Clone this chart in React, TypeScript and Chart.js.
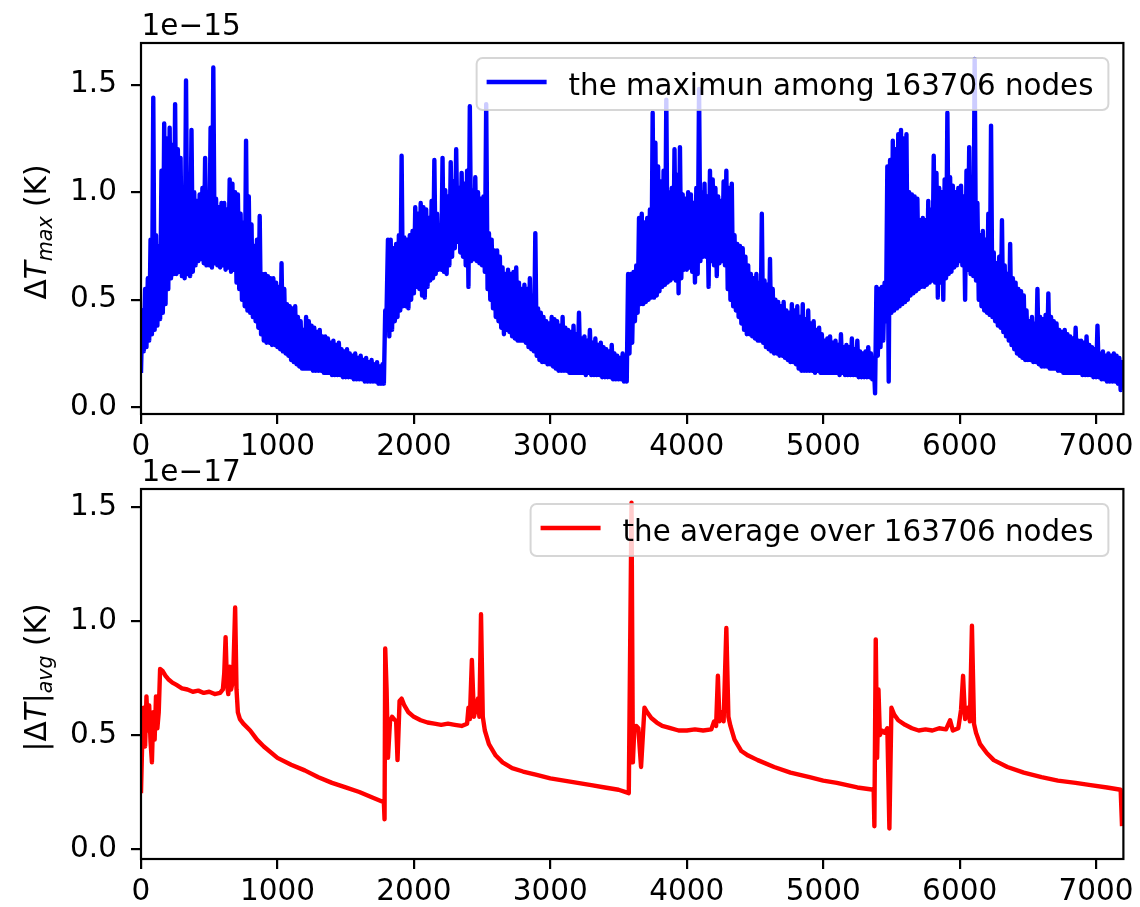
import React, { useEffect, useRef } from 'react';
import { Chart, registerables } from 'chart.js';

Chart.register(...registerables);

// ---------------------------------------------------------------------------
// Data
// ---------------------------------------------------------------------------

// Maximum |ΔT| among all nodes, in units of 1e-15 K.
// Each cycle is stored as two interleaved sample sets: the "floor" samples
// at start + 20·i s and the "peak" samples at start + 20·i + 10 s.
const SAMPLE_STEP = 20;

const cycle1Start = 0;
const cycle1Floor = [
  0.16, 0.26, 0.28, 0.31, 0.34, 0.36, 0.38, 0.41, 0.44, 0.48,
  0.55, 0.60, 0.62, 0.62, 0.63, 0.61, 0.60, 0.62, 0.61, 0.63,
  0.66, 0.68, 0.69, 0.67, 0.66, 0.66, 0.65, 0.67, 0.66, 0.65,
  0.66, 0.64, 0.65, 0.63, 0.64, 0.58, 0.55, 0.50, 0.47, 0.45,
  0.44, 0.42, 0.40, 0.37, 0.34, 0.31, 0.30, 0.30, 0.29, 0.29,
  0.28, 0.27, 0.26, 0.25, 0.24, 0.22, 0.21, 0.20, 0.19, 0.18,
  0.18, 0.18, 0.18, 0.17, 0.17, 0.17, 0.17, 0.16, 0.16, 0.16,
  0.15, 0.15, 0.15, 0.15, 0.14, 0.14, 0.14, 0.14, 0.13, 0.13,
  0.13, 0.13, 0.12, 0.12, 0.12, 0.12, 0.12, 0.11, 0.11, 0.11,
];
const cycle1Peak = [
  0.45, 0.55, 0.60, 0.78, 1.44, 0.80, 0.75, 1.10, 1.32, 1.25,
  1.30, 1.22, 1.41, 1.20, 1.16, 1.02, 1.52, 1.05, 1.29, 1.00,
  0.96, 0.99, 1.02, 1.16, 0.98, 1.30, 1.58, 0.97, 0.93, 0.95,
  0.95, 0.92, 1.06, 1.04, 1.00, 0.99, 0.90, 0.86, 1.24, 0.98,
  0.85, 0.75, 0.78, 0.89, 0.62, 0.62, 0.61, 0.60, 0.60, 0.58,
  0.56, 0.67, 0.55, 0.48, 0.47, 0.46, 0.47, 0.42, 0.40, 0.36,
  0.42, 0.40, 0.38, 0.37, 0.35, 0.36, 0.33, 0.33, 0.32, 0.30,
  0.31, 0.29, 0.30, 0.27, 0.26, 0.27, 0.25, 0.24, 0.25, 0.23,
  0.24, 0.22, 0.23, 0.21, 0.22, 0.20, 0.21, 0.19, 0.20, 0.45,
];

const cycle2Start = 1800;
const cycle2Floor = [
  0.45, 0.33, 0.36, 0.40, 0.42, 0.45, 0.47, 0.47, 0.46, 0.50,
  0.53, 0.56, 0.55, 0.52, 0.51, 0.56, 0.59, 0.60, 0.62, 0.64,
  0.64, 0.63, 0.62, 0.66, 0.70, 0.74, 0.77, 0.72, 0.70, 0.66,
  0.56, 0.68, 0.69, 0.68, 0.67, 0.66, 0.63, 0.55, 0.50, 0.46,
  0.42, 0.40, 0.37, 0.34, 0.36, 0.35, 0.33, 0.32, 0.31, 0.31,
  0.31, 0.30, 0.28, 0.27, 0.26, 0.24, 0.22, 0.21, 0.21, 0.20,
  0.20, 0.19, 0.18, 0.17, 0.17, 0.17, 0.17, 0.16, 0.16, 0.16,
  0.16, 0.16, 0.16, 0.15, 0.16, 0.15, 0.15, 0.15, 0.15, 0.14,
  0.14, 0.14, 0.14, 0.13, 0.13, 0.13, 0.13, 0.12, 0.12,
];
const cycle2Peak = [
  0.78, 0.78, 0.74, 0.76, 0.80, 1.17, 0.79, 0.78, 0.80, 0.82,
  0.93, 0.90, 0.95, 0.93, 0.92, 0.88, 0.96, 1.15, 0.90, 0.84,
  1.16, 1.01, 0.98, 1.14, 1.05, 1.20, 1.02, 1.09, 1.04, 1.10,
  1.40, 1.01, 1.07, 1.00, 0.97, 0.98, 1.41, 0.81, 0.78, 0.73,
  0.73, 0.70, 0.65, 0.62, 0.64, 0.62, 0.63, 0.65, 0.58, 0.55,
  0.57, 0.55, 0.60, 0.52, 0.81, 0.46, 0.44, 0.42, 0.40, 0.39,
  0.42, 0.41, 0.40, 0.38, 0.42, 0.37, 0.36, 0.35, 0.38, 0.34,
  0.44, 0.32, 0.33, 0.31, 0.36, 0.30, 0.32, 0.29, 0.30, 0.28,
  0.27, 0.26, 0.29, 0.25, 0.24, 0.23, 0.25, 0.22, 0.62,
];

const cycle3Start = 3580;
const cycle3Floor = [
  0.25, 0.30, 0.40, 0.44, 0.48, 0.48, 0.49, 0.50, 0.51, 0.51,
  0.52, 0.54, 0.56, 0.57, 0.58, 0.59, 0.60, 0.59, 0.53, 0.60,
  0.64, 0.64, 0.65, 0.63, 0.58, 0.62, 0.68, 0.70, 0.70, 0.56,
  0.68, 0.66, 0.61, 0.67, 0.68, 0.66, 0.55, 0.50, 0.47, 0.45,
  0.42, 0.39, 0.36, 0.34, 0.34, 0.33, 0.32, 0.31, 0.31, 0.30,
  0.28, 0.27, 0.26, 0.25, 0.25, 0.24, 0.24, 0.23, 0.22, 0.21,
  0.21, 0.20, 0.18, 0.17, 0.17, 0.17, 0.17, 0.17, 0.16, 0.17,
  0.16, 0.16, 0.16, 0.16, 0.16, 0.16, 0.16, 0.15, 0.16, 0.15,
  0.15, 0.15, 0.15, 0.15, 0.14, 0.14, 0.14, 0.14, 0.14, 0.13,
];
const cycle3Peak = [
  0.62, 0.63, 0.66, 0.88, 0.90, 0.86, 0.88, 0.92, 1.37, 1.23,
  1.12, 1.05, 1.10, 1.43, 1.00, 1.02, 1.20, 1.08, 1.21, 0.99,
  0.97, 1.00, 0.99, 0.95, 1.02, 1.48, 1.00, 1.04, 0.98, 1.10,
  1.06, 1.02, 0.98, 0.96, 1.05, 1.10, 1.02, 1.04, 0.80, 0.76,
  0.75, 0.74, 0.70, 0.66, 0.62, 0.60, 0.62, 0.58, 0.90, 0.59,
  0.57, 0.69, 0.55, 0.50, 0.49, 0.47, 0.49, 0.45, 0.44, 0.48,
  0.45, 0.47, 0.42, 0.48, 0.41, 0.45, 0.39, 0.40, 0.36, 0.37,
  0.34, 0.31, 0.32, 0.33, 0.30, 0.31, 0.29, 0.34, 0.28, 0.29,
  0.28, 0.32, 0.27, 0.31, 0.26, 0.25, 0.26, 0.28, 0.25, 0.22,
];

const cycle4Start = 5380;
const cycle4Floor = [
  0.065, 0.24, 0.28, 0.31, 0.40, 0.12, 0.44, 0.45, 0.46, 0.47,
  0.48, 0.49, 0.50, 0.52, 0.53, 0.54, 0.55, 0.56, 0.56, 0.57,
  0.58, 0.59, 0.58, 0.51, 0.58, 0.50, 0.60, 0.62, 0.63, 0.65,
  0.66, 0.68, 0.66, 0.50, 0.64, 0.62, 0.61, 0.59, 0.50, 0.47,
  0.45, 0.44, 0.43, 0.42, 0.40, 0.38, 0.37, 0.35, 0.33, 0.31,
  0.29, 0.27, 0.25, 0.24, 0.23, 0.22, 0.22, 0.22, 0.21, 0.21,
  0.20, 0.19, 0.19, 0.19, 0.18, 0.18, 0.18, 0.17, 0.17, 0.16,
  0.16, 0.16, 0.16, 0.16, 0.16, 0.16, 0.15, 0.15, 0.15, 0.15,
  0.14, 0.14, 0.14, 0.13, 0.13, 0.12, 0.12, 0.12, 0.12, 0.11,
  0.08,
];
const cycle4Peak = [
  0.56, 0.55, 0.56, 0.58, 1.12, 1.15, 1.24, 1.20, 1.27, 1.29,
  1.25, 1.27, 1.00, 0.99, 0.98, 0.97, 0.87, 0.88, 0.87, 0.96,
  0.92, 1.17, 1.09, 1.02, 1.00, 1.06, 1.37, 1.07, 1.03, 1.00,
  1.02, 1.03, 0.98, 1.10, 1.21, 1.00, 1.62, 0.95, 0.80, 0.82,
  0.78, 0.90, 1.31, 0.72, 0.67, 0.70, 0.87, 0.66, 0.62, 0.76,
  0.60, 0.58, 0.55, 0.54, 0.52, 0.45, 0.40, 0.42, 0.39, 0.55,
  0.42, 0.41, 0.43, 0.53, 0.42, 0.40, 0.39, 0.36, 0.35, 0.36,
  0.34, 0.33, 0.32, 0.37, 0.31, 0.31, 0.30, 0.33, 0.29, 0.28,
  0.27, 0.38, 0.25, 0.26, 0.24, 0.25, 0.24, 0.25, 0.24, 0.23,
  0.22,
];

// Average |ΔT| over all nodes, in units of 1e-17 K.
const avgTime = [
  0, 10, 20, 30, 40, 50, 60, 70, 80, 90, 100, 110, 120, 130, 140, 160, 180, 200, 230, 260,
  300, 340, 380, 420, 460, 500, 540, 580, 600, 610, 620, 630, 640, 650, 660, 675, 690, 700, 710, 725,
  750, 800, 850, 900, 1000, 1100, 1200, 1300, 1400, 1500, 1600, 1700, 1780, 1785, 1790, 1800, 1810, 1825, 1840, 1855,
  1870, 1880, 1895, 1910, 1930, 1960, 2000, 2050, 2100, 2150, 2200, 2250, 2300, 2350, 2390, 2400, 2410, 2425, 2440, 2455,
  2470, 2480, 2492, 2505, 2520, 2550, 2600, 2650, 2720, 2800, 2900, 3000, 3100, 3200, 3300, 3400, 3500, 3575, 3595, 3605,
  3615, 3630, 3645, 3665, 3690, 3710, 3740, 3780, 3820, 3880, 3940, 4000, 4060, 4120, 4180, 4200, 4215, 4228, 4240, 4255,
  4270, 4290, 4305, 4320, 4350, 4400, 4450, 4520, 4640, 4760, 4900, 5000, 5100, 5250, 5370, 5375, 5385, 5395, 5405, 5415,
  5430, 5450, 5470, 5485, 5500, 5520, 5550, 5600, 5650, 5700, 5750, 5800, 5850, 5900, 5930, 5950, 5990, 6010, 6025, 6040,
  6060, 6075, 6090, 6105, 6120, 6150, 6200, 6250, 6350, 6470, 6600, 6720, 6850, 6960, 7080, 7180, 7190,
];
const avgValue = [
  0.245, 0.50, 0.62, 0.45, 0.67, 0.52, 0.63, 0.47, 0.38, 0.60, 0.48, 0.67, 0.53, 0.60, 0.79, 0.78, 0.76, 0.745, 0.73, 0.72,
  0.705, 0.70, 0.69, 0.695, 0.685, 0.69, 0.68, 0.685, 0.70, 0.77, 0.93, 0.72, 0.68, 0.80, 0.70, 0.74, 1.06, 0.70, 0.60, 0.57,
  0.55, 0.52, 0.48, 0.45, 0.40, 0.37, 0.345, 0.315, 0.29, 0.27, 0.25, 0.225, 0.205, 0.13, 0.88, 0.70, 0.40, 0.56, 0.58, 0.57,
  0.56, 0.39, 0.65, 0.66, 0.63, 0.60, 0.58, 0.565, 0.555, 0.55, 0.545, 0.55, 0.545, 0.54, 0.55, 0.62, 0.57, 0.83, 0.58, 0.62,
  0.66, 0.58, 1.03, 0.58, 0.52, 0.46, 0.41, 0.38, 0.355, 0.34, 0.325, 0.31, 0.30, 0.29, 0.28, 0.27, 0.26, 0.245, 1.52, 0.38,
  0.52, 0.54, 0.53, 0.36, 0.62, 0.60, 0.575, 0.555, 0.54, 0.53, 0.52, 0.52, 0.525, 0.52, 0.525, 0.56, 0.54, 0.76, 0.56, 0.60,
  0.56, 0.97, 0.58, 0.54, 0.48, 0.43, 0.41, 0.39, 0.36, 0.335, 0.315, 0.30, 0.29, 0.27, 0.26, 0.10, 0.92, 0.40, 0.70, 0.50,
  0.52, 0.51, 0.53, 0.09, 0.62, 0.59, 0.565, 0.545, 0.53, 0.52, 0.525, 0.52, 0.53, 0.525, 0.565, 0.52, 0.53, 0.61, 0.76, 0.57,
  0.62, 0.56, 0.98, 0.55, 0.51, 0.46, 0.42, 0.39, 0.36, 0.335, 0.315, 0.30, 0.29, 0.28, 0.27, 0.26, 0.10,
];

// Axis ticks
const timeTicks = [0, 1000, 2000, 3000, 4000, 5000, 6000, 7000];
const maxTicks = [0, 0.5, 1.0, 1.5];
const avgTicks = [0, 0.5, 1.0, 1.5];

// ---------------------------------------------------------------------------
// Figure layout and styling
// ---------------------------------------------------------------------------

const FIG_W = 1140;
const FIG_H = 907;
const FONT = '"DejaVu Sans", sans-serif';
const TEXT_SIZE = 29.5;
const LEGEND_SIZE = 29.3;
const X_AXIS_H = 48;
const T_MIN = 0;
const T_MAX = 7200;

type Pt = { x: number; y: number };
type Piece = { text: string; italic?: boolean; sub?: boolean };

interface PanelSpec {
  points: Pt[];
  color: string;
  yMin: number;
  yMax: number;
  yTicks: number[];
  area: { left: number; top: number; right: number; bottom: number };
  offsetText: string;
  legendLabel: string;
  yLabel: Piece[];
}

// Merge a cycle's floor and peak samples into one time-ordered trace.
function cycleTrace(start: number, floor: number[], peak: number[]): Pt[] {
  const out: Pt[] = [];
  floor.forEach((lo, i) => {
    out.push({ x: start + i * SAMPLE_STEP, y: lo });
    if (i < peak.length) out.push({ x: start + i * SAMPLE_STEP + SAMPLE_STEP / 2, y: peak[i] });
  });
  return out;
}

const maxPoints: Pt[] = [
  ...cycleTrace(cycle1Start, cycle1Floor, cycle1Peak),
  ...cycleTrace(cycle2Start, cycle2Floor, cycle2Peak),
  ...cycleTrace(cycle3Start, cycle3Floor, cycle3Peak),
  ...cycleTrace(cycle4Start, cycle4Floor, cycle4Peak),
];
const avgPoints: Pt[] = avgTime.map((x, i) => ({ x, y: avgValue[i] }));

const TOP_PANEL: PanelSpec = {
  points: maxPoints,
  color: '#0000ff',
  yMin: -0.031,
  yMax: 1.694,
  yTicks: maxTicks,
  area: { left: 141, top: 43, right: 1127, bottom: 414 },
  offsetText: '1e\u221215',
  legendLabel: 'the maximun among 163706 nodes',
  yLabel: [
    { text: '\u0394' },
    { text: 'T', italic: true },
    { text: 'max', italic: true, sub: true },
    { text: ' (K)' },
  ],
};

const BOTTOM_PANEL: PanelSpec = {
  points: avgPoints,
  color: '#ff0000',
  yMin: -0.044,
  yMax: 1.58,
  yTicks: avgTicks,
  area: { left: 141, top: 489, right: 1127, bottom: 859 },
  offsetText: '1e\u221217',
  legendLabel: 'the average over 163706 nodes',
  yLabel: [
    { text: '|\u0394' },
    { text: 'T', italic: true },
    { text: '|' },
    { text: 'avg', italic: true, sub: true },
    { text: ' (K)' },
  ],
};

// Rotated axis title with an italic subscript, reading bottom to top.
function drawRotatedLabel(
  ctx: CanvasRenderingContext2D,
  pieces: Piece[],
  baseX: number,
  centerY: number,
  size: number,
) {
  const fontFor = (p: Piece) =>
    `${p.italic ? 'italic ' : ''}${p.sub ? size * 0.7 : size}px ${FONT}`;
  const widths = pieces.map((p) => {
    ctx.font = fontFor(p);
    return ctx.measureText(p.text).width;
  });
  const total = widths.reduce((a, b) => a + b, 0);
  ctx.save();
  ctx.translate(baseX, centerY);
  ctx.rotate(-Math.PI / 2);
  ctx.textAlign = 'left';
  ctx.textBaseline = 'alphabetic';
  ctx.fillStyle = '#000';
  let x = -total / 2;
  pieces.forEach((p, i) => {
    ctx.font = fontFor(p);
    ctx.fillText(p.text, x, p.sub ? size * 0.2 : 0);
    x += widths[i];
  });
  ctx.restore();
}

// Frame, offset text, y title and legend drawn on top of the data.
function makeDecor(spec: PanelSpec) {
  return {
    id: 'panelDecor',
    afterDraw(chart: Chart) {
      const { ctx, chartArea: a } = chart;
      ctx.save();

      ctx.strokeStyle = '#000';
      ctx.lineWidth = 2.2;
      ctx.strokeRect(a.left, a.top, a.right - a.left, a.bottom - a.top);

      ctx.fillStyle = '#000';
      ctx.font = `${TEXT_SIZE}px ${FONT}`;
      ctx.textAlign = 'left';
      ctx.textBaseline = 'alphabetic';
      ctx.fillText(spec.offsetText, a.left + 0.5, a.top - 8);

      drawRotatedLabel(ctx, spec.yLabel, 46, (a.top + a.bottom) / 2 + 3.5, TEXT_SIZE);

      // legend (upper right)
      ctx.font = `${LEGEND_SIZE}px ${FONT}`;
      const tw = ctx.measureText(spec.legendLabel).width;
      const padL = 10;
      const handle = 60;
      const gap = 22;
      const padR = 15;
      const boxH = 52;
      const right = a.right - 15;
      const top = a.top + 15;
      const left = right - (padL + handle + gap + tw + padR);
      const r = 6;
      ctx.beginPath();
      ctx.moveTo(left + r, top);
      ctx.lineTo(right - r, top);
      ctx.arcTo(right, top, right, top + r, r);
      ctx.lineTo(right, top + boxH - r);
      ctx.arcTo(right, top + boxH, right - r, top + boxH, r);
      ctx.lineTo(left + r, top + boxH);
      ctx.arcTo(left, top + boxH, left, top + boxH - r, r);
      ctx.lineTo(left, top + r);
      ctx.arcTo(left, top, left + r, top, r);
      ctx.closePath();
      ctx.fillStyle = 'rgba(255,255,255,0.8)';
      ctx.fill();
      ctx.strokeStyle = 'rgba(204,204,204,0.8)';
      ctx.lineWidth = 2;
      ctx.stroke();

      ctx.beginPath();
      ctx.moveTo(left + padL, top + 24);
      ctx.lineTo(left + padL + handle, top + 24);
      ctx.strokeStyle = spec.color;
      ctx.lineWidth = 4.4;
      ctx.lineCap = 'butt';
      ctx.stroke();

      ctx.fillStyle = '#000';
      ctx.fillText(spec.legendLabel, left + padL + handle + gap, top + 37);

      ctx.restore();
    },
  };
}

function makePanel(canvas: HTMLCanvasElement, spec: PanelSpec): Chart {
  const tickFont = { family: FONT, size: TEXT_SIZE };
  const tickGrid = {
    drawOnChartArea: false,
    drawTicks: true,
    tickLength: 10,
    tickWidth: 2.2,
    tickColor: '#000',
    color: '#000',
    lineWidth: 2.2,
  };
  return new Chart(canvas, {
    type: 'line',
    data: {
      datasets: [
        {
          label: spec.legendLabel,
          data: spec.points,
          borderColor: spec.color,
          borderWidth: 4.4,
          borderJoinStyle: 'round',
          borderCapStyle: 'butt',
          pointRadius: 0,
          pointHoverRadius: 0,
          tension: 0,
          fill: false,
        },
      ],
    },
    options: {
      animation: false,
      responsive: false,
      devicePixelRatio: 1,
      events: [],
      layout: {
        padding: {
          left: 0,
          top: spec.area.top,
          right: FIG_W - spec.area.right,
          bottom: FIG_H - spec.area.bottom - X_AXIS_H,
        },
      },
      scales: {
        x: {
          type: 'linear',
          min: T_MIN,
          max: T_MAX,
          afterFit: (s: any) => {
            s.height = X_AXIS_H;
          },
          afterBuildTicks: (s: any) => {
            s.ticks = timeTicks.map((value) => ({ value }));
          },
          ticks: {
            autoSkip: false,
            maxRotation: 0,
            padding: 6,
            color: '#000',
            font: tickFont,
            callback: (v: any) => String(v),
          },
          grid: tickGrid,
          border: { display: false },
        },
        y: {
          type: 'linear',
          min: spec.yMin,
          max: spec.yMax,
          afterFit: (s: any) => {
            s.width = spec.area.left;
          },
          afterBuildTicks: (s: any) => {
            s.ticks = spec.yTicks.map((value) => ({ value }));
          },
          ticks: {
            autoSkip: false,
            padding: 14,
            color: '#000',
            font: tickFont,
            callback: (v: any) => Number(v).toFixed(1),
          },
          grid: tickGrid,
          border: { display: false },
        },
      },
      plugins: {
        legend: { display: false },
        tooltip: { enabled: false },
        title: { display: false },
      },
    },
    plugins: [makeDecor(spec)],
  } as any);
}

export default function App() {
  const topRef = useRef<HTMLCanvasElement>(null);
  const bottomRef = useRef<HTMLCanvasElement>(null);

  useEffect(() => {
    const charts: Chart[] = [];
    if (topRef.current) charts.push(makePanel(topRef.current, TOP_PANEL));
    if (bottomRef.current) charts.push(makePanel(bottomRef.current, BOTTOM_PANEL));
    return () => charts.forEach((c) => c.destroy());
  }, []);

  const canvasStyle: React.CSSProperties = { position: 'absolute', left: 0, top: 0 };
  return (
    <div
      style={{
        position: 'absolute',
        left: 0,
        top: 0,
        width: FIG_W,
        height: FIG_H,
        background: '#ffffff',
        overflow: 'hidden',
      }}
    >
      <canvas ref={topRef} width={FIG_W} height={FIG_H} style={canvasStyle} />
      <canvas ref={bottomRef} width={FIG_W} height={FIG_H} style={canvasStyle} />
    </div>
  );
}
